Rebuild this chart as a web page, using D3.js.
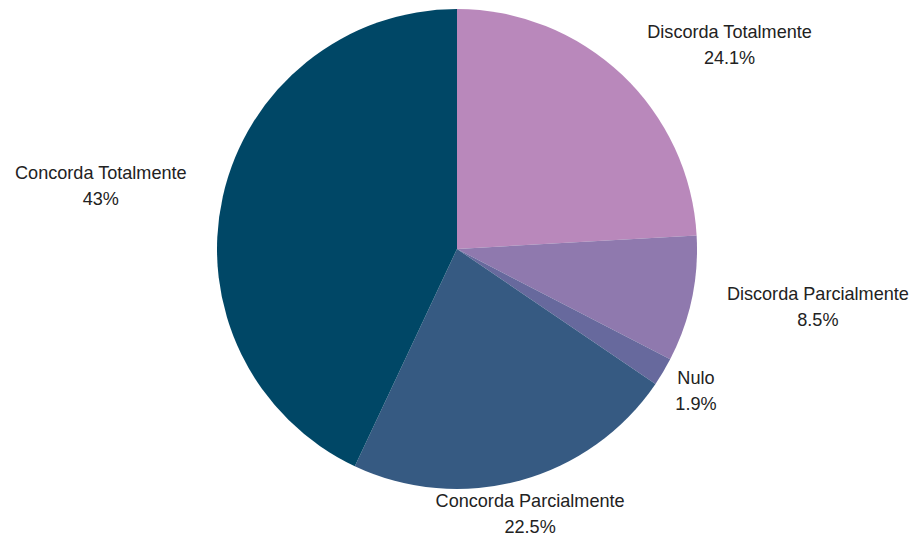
<!DOCTYPE html>
<html>
<head>
<meta charset="utf-8">
<script src="https://cdn.jsdelivr.net/npm/d3@7/dist/d3.min.js"></script>
<style>
html,body{margin:0;padding:0;background:#fff;}
svg{display:block;}
</style>
</head>
<body>
<svg id="chart" width="912" height="538"></svg>
<script>
const categories = ["Discorda Totalmente", "Discorda Parcialmente", "Nulo", "Concorda Parcialmente", "Concorda Totalmente"];
const values = [24.1, 8.5, 1.9, 22.5, 43];
const valueLabels = ["24.1%", "8.5%", "1.9%", "22.5%", "43%"];
const colors = ["#b988bb", "#8f79ae", "#67699d", "#365a82", "#004766"];

const svg = d3.select("#chart");
const cx = 457, cy = 249, r = 240;

const data = categories.map((c, i) => ({ name: c, value: values[i], label: valueLabels[i], color: colors[i] }));

const pie = d3.pie().value(d => d.value).sort(null);
const arcs = pie(data);
const arc = d3.arc().innerRadius(0).outerRadius(r);

const g = svg.append("g").attr("transform", `translate(${cx},${cy})`);
g.selectAll("path").data(arcs).enter().append("path")
  .attr("d", arc)
  .attr("fill", d => d.data.color);

// label layout
const Rl = 277;
const lineH = 26;
const fontSize = 18.1;
const nudge = {
  "Discorda Totalmente": { dy: -3 },
  "Discorda Parcialmente": { dx: -1 },
  "Nulo": { anchor: "middle", dx: 1 },
  "Concorda Parcialmente": { dy: -2.5 },
  "Concorda Totalmente": { dy: -3 }
};
const lg = svg.append("g").attr("transform", `translate(${cx},${cy})`);
arcs.forEach(a => {
  const mid = (a.startAngle + a.endAngle) / 2;
  const s = Math.sin(mid), c = -Math.cos(mid);
  let x = Rl * s, y = Rl * c;
  let anchor = s > 0.5 ? "start" : (s < -0.5 ? "end" : "middle");
  const n = nudge[a.data.name] || {};
  if (n.anchor) anchor = n.anchor;
  x += n.dx || 0; y += n.dy || 0;
  const t = lg.append("text")
    .attr("text-anchor", "middle")
    .attr("font-family", "'Liberation Sans', Arial, sans-serif")
    .attr("font-size", fontSize)
    .attr("fill", "#222");
  const base1 = y - lineH / 2 + 6.5;
  const l1 = t.append("tspan").attr("y", base1).text(a.data.name);
  const l2 = t.append("tspan").attr("y", base1 + lineH).text(a.data.label);
  const w = Math.max(l1.node().getComputedTextLength(), l2.node().getComputedTextLength());
  let xc = x;
  if (anchor === "start") xc = x + w / 2;
  else if (anchor === "end") xc = x - w / 2;
  l1.attr("x", xc); l2.attr("x", xc);
});
</script>
</body>
</html>
